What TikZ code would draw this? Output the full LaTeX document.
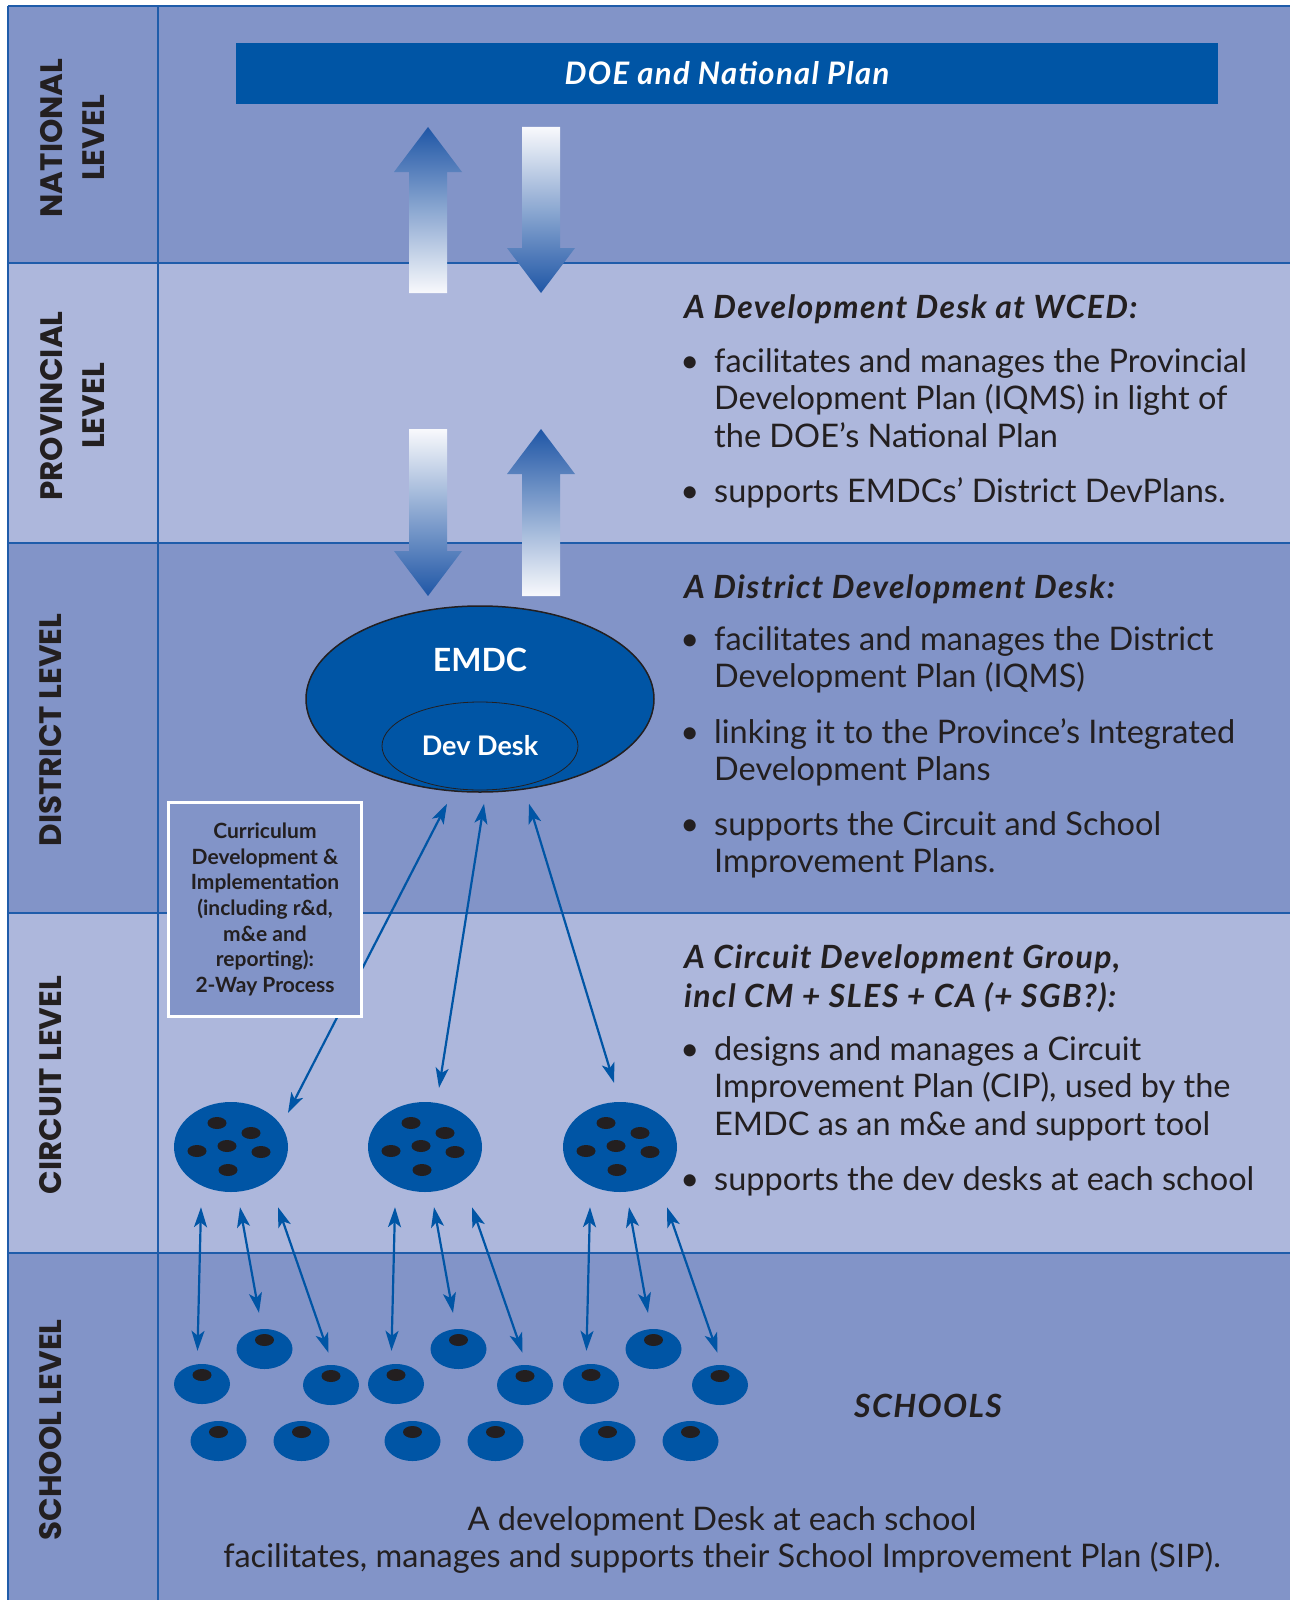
\documentclass[tikz,border=0pt]{standalone}
\usepackage{fontspec}
\setmainfont{Lato}
\newfontfamily\levelfont{Poppins}
\usetikzlibrary{arrows.meta,shapes.geometric}

\definecolor{rowdark}{HTML}{8294C8}
\definecolor{rowlight}{HTML}{ADB7DC}
\definecolor{deskblue}{HTML}{0055A5}
\definecolor{ruleblue}{HTML}{1F5CAA}
\definecolor{arrowblue}{HTML}{1F56A6}
\definecolor{ink}{HTML}{231F20}

\newcommand\bodysize{\fontsize{32.5}{37.5}\selectfont}
\newcommand\headsize{\addfontfeatures{LetterSpace=4.3}\fontsize{32}{39}\selectfont}
\newcommand\bul{\llap{\textbullet\hspace{15pt}}}
% stacked lines, baseline on the first one
\newcommand\lines[1]{\begin{tabular}[t]{@{}l@{}}#1\end{tabular}}
\newcommand\clines[1]{\begin{tabular}[t]{@{}c@{}}#1\end{tabular}}

% wide shaded arrows: x, tip, tail (up) and x, tail, tip (down)
\newcommand\flowup[3]{%
  \shade[top color=arrowblue, bottom color=white!92!rowlight]
    (#1-19,#3) -- (#1-19,#2+45) -- (#1-34,#2+45) -- (#1,#2)
    -- (#1+34,#2+45) -- (#1+19,#2+45) -- (#1+19,#3) -- cycle;}
\newcommand\flowdown[3]{%
  \shade[top color=white!92!rowlight, bottom color=arrowblue]
    (#1-19,#2) -- (#1-19,#3-45) -- (#1-34,#3-45) -- (#1,#3)
    -- (#1+34,#3-45) -- (#1+19,#3-45) -- (#1+19,#2) -- cycle;}

\begin{document}
\begin{tikzpicture}[x=1pt, y=-1pt,
  rowline/.style = {ruleblue, line width=2pt},
  levellbl/.style = {rotate=90, inner sep=0, align=center, text=ink,
    font=\levelfont\bfseries\fontsize{31}{42}\selectfont},
  plan/.style = {fill=deskblue, text=white, inner sep=0,
    minimum width=982pt, minimum height=61pt,
    font=\bfseries\itshape\addfontfeatures{LetterSpace=4.3}\fontsize{31}{38}\selectfont},
  heading/.style = {anchor=base west, inner sep=0, text=ink,
    font=\bfseries\itshape\headsize},
  item/.style = {anchor=base west, inner sep=0, text=ink, font=\bodysize},
  emdcshape/.style = {ellipse, draw=ink, line width=1.5pt, fill=deskblue,
    minimum width=348pt, minimum height=186pt, inner sep=0},
  deskshape/.style = {ellipse, draw=ink, line width=0.8pt, fill=deskblue,
    minimum width=196pt, minimum height=88pt, inner sep=0, text=white,
    font=\bfseries\fontsize{27}{30}\selectfont},
  cluster/.style = {ellipse, fill=deskblue, minimum width=114pt,
    minimum height=90pt, inner sep=0},
  school/.style = {ellipse, fill=deskblue, minimum width=56pt,
    minimum height=40pt, inner sep=0},
  hole/.style = {fill=ink},
  link/.style = {deskblue, line width=2.2pt,
    >={Stealth[length=20pt, width=13pt, inset=5pt]}, <->},
  cdbox/.style = {draw=white, line width=3pt, fill=rowdark, inner sep=0,
    minimum width=193pt, minimum height=214pt, align=center, text=ink,
    font=\bfseries\fontsize{21}{25.7}\selectfont}
]
  \useasboundingbox (0,0) rectangle (1290,1600);
  \fill[white] (0,0) rectangle (1290,1600);

  % level bands
  \fill[rowdark]  (8,6)    rectangle (1290,263);
  \fill[rowlight] (8,263)  rectangle (1290,543);
  \fill[rowdark]  (8,543)  rectangle (1290,913);
  \fill[rowlight] (8,913)  rectangle (1290,1253);
  \fill[rowdark]  (8,1253) rectangle (1290,1600);
  \foreach \y in {6,263,543,913,1253}
    \draw[rowline] (8,\y) -- (1290,\y);
  \draw[rowline] (8,6) -- (8,1600);
  \draw[rowline] (158,6) -- (158,1600);

  % level names
  \node[levellbl] (national)   at (72,138)  {NATIONAL\\LEVEL};
  \node[levellbl] (provincial) at (72,406)  {PROVINCIAL\\LEVEL};
  \node[levellbl] (district)   at (51,730)  {DISTRICT LEVEL};
  \node[levellbl] (circuit)    at (51,1085) {CIRCUIT LEVEL};
  \node[levellbl] (school)     at (51,1430) {SCHOOL LEVEL};

  % national plan
  \node[plan] (doe) at (727,73.5) {DOE and National Plan};

  % two-way flow national <-> province <-> district
  \flowup{428}{127}{293}
  \flowdown{541}{127}{293}
  \flowdown{428}{429}{596}
  \flowup{541}{429}{596}

  % province
  \node[heading] (wced) at (684,318) {A Development Desk at WCED:};
  \node[item] (wced1) at (714,372) {\lines{\bul facilitates and manages the Provincial\\
    Development Plan (IQMS) in light of\\the DOE’s National Plan}};
  \node[item] (wced2) at (714,502) {\bul supports EMDCs’ District DevPlans.};

  % district
  \node[heading] (ddd) at (684,598) {A District Development Desk:};
  \node[item] (ddd1) at (714,650) {\lines{\bul facilitates and manages the District\\
    Development Plan (IQMS)}};
  \node[item] (ddd2) at (714,743) {\lines{\bul linking it to the Province’s Integrated\\
    Development Plans}};
  \node[item] (ddd3) at (714,835) {\lines{\bul supports the Circuit and School\\
    Improvement Plans.}};

  % circuit
  \node[heading] (cdg) at (684,968) {\lines{A Circuit Development Group,\\
    incl CM + SLES + CA (+ SGB?):}};
  \node[item] (cdg1) at (714,1060) {\lines{\bul designs and manages a Circuit\\
    Improvement Plan (CIP), used by the\\EMDC as an m\&e and support tool}};
  \node[item] (cdg2) at (714,1190) {\bul supports the dev desks at each school};

  % schools
  \node[text=ink, inner sep=0, anchor=base,
    font=\bfseries\itshape\headsize] (schools) at (928,1417) {SCHOOLS};
  \node[item, anchor=base] (sip) at (722,1530)
    {\clines{A development Desk at each school\\
     facilitates, manages and supports their School Improvement Plan (SIP).}};

  % EMDC with its dev desk
  \node[emdcshape] (emdc) at (480,699) {};
  \node[deskshape] (desk) at (480,746) {Dev Desk};
  \node[text=white, inner sep=0, font=\bfseries\fontsize{32}{36}\selectfont]
    (emdclbl) at (480,660) {EMDC};

  % circuits and their schools
  \foreach \cx [count=\n] in {231,425,620} {
    \node[cluster] (c\n) at (\cx,1147) {};
    \foreach \dx/\dy in {-14/-24, 20/-14, -34/4, -4/-1, 30/5, -3/23}
      \fill[hole] (\cx+\dx,1147+\dy) ellipse [x radius=9.5, y radius=6];
    \foreach \s/\dx/\sy in {a/-29/1384, b/33.5/1349, c/100/1385,
                           d/-12.5/1441, e/70.5/1441} {
      \node[school] (s\n-\s) at (\cx+\dx,\sy) {};
      \fill[hole] ([yshift=9pt]s\n-\s.center) ellipse [x radius=9.5, y radius=6];
    }
    \draw[link] ([xshift=-30pt,yshift=-15pt]c\n.south) -- ([xshift=-4.5pt,yshift=13pt]s\n-a.north);
    \draw[link] ([xshift=9pt,yshift=-15pt]c\n.south) -- ([xshift=-5.5pt,yshift=16pt]s\n-b.north);
    \draw[link] ([xshift=47pt,yshift=-15pt]c\n.south) -- ([xshift=-2.5pt,yshift=12pt]s\n-c.north);
  }

  % EMDC <-> circuits
  \draw[link] ([xshift=-33pt,yshift=-11pt]emdc.south) -- ([xshift=57pt,yshift=-11pt]c1.north);
  \draw[link] ([xshift=4pt,yshift=-11pt]emdc.south) -- ([xshift=14pt,yshift=14pt]c2.north);
  \draw[link] ([xshift=49pt,yshift=-11pt]emdc.south) -- ([xshift=-6pt,yshift=19pt]c3.north);

  % curriculum note over the left link
  \node[cdbox] (cdi) at (265,909.5) {Curriculum\\Development \&\\Implementation\\
    (including r\&d,\\m\&e and\\reporting):\\2-Way Process};
\end{tikzpicture}
\end{document}
